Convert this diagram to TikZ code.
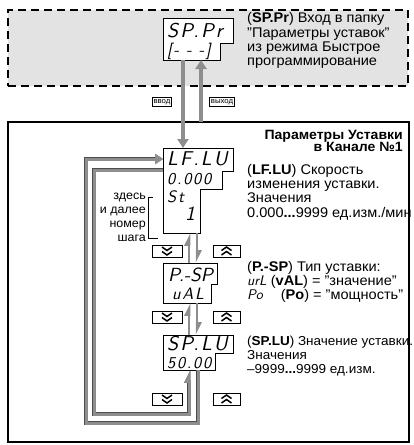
\documentclass[tikz,border=0pt]{standalone}
\usepackage{fontspec}
\setmainfont{Liberation Sans}[FakeStretch=1.04]
\newfontfamily\segfont{lmsans10-oblique.otf}[LetterSpace=10]
\newfontfamily\segtight{lmsans10-oblique.otf}
\usepackage{tikz}
\usepackage{xcolor}
\definecolor{panel_gray}{HTML}{E3E3E3}
\definecolor{flow_gray}{HTML}{8E8E8E}
\usetikzlibrary{positioning,calc,arrows.meta}
\tikzset{BOX/.style={rectangle,inner sep=0,outer sep=0,anchor=north west}}
\tikzset{DISPLAY/.style={draw,semithick,fill=white}}
\tikzset{SEG/.style={inner sep=0,anchor=west,font=\segfont\fontsize{20}{20}\selectfont}}
\tikzset{SEGSMALL/.style={SEG,font=\segfont\fontsize{16.5}{17}\selectfont}}
\tikzset{DESCR/.style={inner sep=0,anchor=north west,align=left,font=\fontsize{14}{14.3}\selectfont}}
\tikzset{TAG/.style={rectangle,draw,line width=0.9pt,fill=white,inner sep=1.3pt,font=\fontsize{7.5}{8}\selectfont}}
\tikzset{BUTTON/.style={rectangle,draw,semithick,fill=white,minimum height=12,inner sep=0}}
\tikzset{CHEVRON/.style={line width=1.5pt,miter limit=4}}
\tikzset{FLOW/.style={line width=4pt,color=flow_gray,-{Triangle[width=11pt,length=9pt]}}}
\tikzset{HARPOON/.style={line width=2.5pt,color=flow_gray,-{Triangle[left,width=9pt,length=10pt]}}}
\tikzset{LOOP/.style={line width=3pt,color=flow_gray,preaction={draw=black!70,line width=4.2pt}}}

\begin{document}
\begin{tikzpicture}[x=1pt,y=-1pt]
\useasboundingbox (0,0) rectangle (413,445);

% quick programming level
\node[BOX,draw,line width=1.5pt,dash pattern=on 8pt off 5pt,fill=panel_gray,minimum width=400,minimum height=76] (n_quick) at (8,10) {};
\node[BOX,minimum width=70,minimum height=42] (n_sppr) at (163,18) {};
\draw[DISPLAY] (n_sppr.north west) -- (n_sppr.north east) -- ++(0,25) -- ++(-13,0) |- (n_sppr.south west) -- cycle;
\node[SEG] (t_sppr_a) at ($(n_sppr.north west)+(4,13)$) {SP.Pr};
\node[SEGSMALL] (t_sppr_b) at ($(n_sppr.north west)+(4,33)$) {{[}- - -{]}};
\node[DESCR] (n_sppr_info) at (247,12.5) {(\textbf{SP.Pr}) Вход в папку\\"Параметры уставок"\\из режима Быстрое\\программирование};

% setpoint parameters
\node[BOX,draw,line width=1.2pt,minimum width=401,minimum height=320] (n_panel) at (8,122) {};
\node[inner sep=0,anchor=north east,align=right,font=\bfseries\fontsize{13.5}{12.5}\selectfont] (n_title) at (403,129.7) {Параметры Уставки\\в Канале №1};

\node[TAG] (n_tag_in) at (162,102) {ввод};
\node[TAG] (n_tag_out) at (222,102) {выход};

\node[BOX,minimum width=70,minimum height=85] (n_lflu) at (163,148) {};
\draw[DISPLAY] (n_lflu.north west) -- (n_lflu.north east) -- ++(0,23) -- ++(-11,0) -- ++(0,18) -- ++(-22,0) |- (n_lflu.south west) -- cycle;
\node[SEG] (t_lflu_a) at ($(n_lflu.north west)+(4,11)$) {LF.LU};
\node[SEGSMALL] (t_lflu_b) at ($(n_lflu.north west)+(4,31)$) {0.000};
\node[SEGSMALL] (t_lflu_c) at ($(n_lflu.north west)+(4,49)$) {St};
\node[SEG] (t_lflu_d) at ($(n_lflu.north west)+(22,66)$) {1};
\node[DESCR] (n_lflu_info) at (247,164) {(\textbf{LF.LU}) Скорость\\изменения уставки.\\Значения\\0.000\textbf{...}9999 ед.изм./мин};

\node[DESCR,anchor=north east,align=right,font=\fontsize{12}{14}\selectfont] (n_step_note) at (146,193.3) {здесь\\и далее\\номер\\шага};
\draw[semithick] ($(n_step_note.north east)+(7,4)$) -| ($(n_step_note.north east)+(2,45)$) -- ++(10,0);

\node[BOX,minimum width=54,minimum height=40] (n_psp) at (163,263) {};
\draw[DISPLAY] (n_psp.north west) -- (n_psp.north east) -- ++(0,21) -- ++(-6,0) |- (n_psp.south west) -- cycle;
\node[SEG,font=\segtight\fontsize{19}{19}\selectfont] (t_psp_a) at ($(n_psp.north west)+(5,12)$) {P.-SP};
\node[SEGSMALL] (t_psp_b) at ($(n_psp.north west)+(9,31)$) {uAL};
\node[DESCR] (n_psp_info) at (247,261) {(\textbf{P.-SP}) Тип уставки:\\{\segtight urL} (\textbf{vAL}) = "значение"\\{\segtight Po}\quad\ (\textbf{Po}) = "мощность"};

\node[BOX,minimum width=70,minimum height=35] (n_splu) at (163,335) {};
\draw[DISPLAY] (n_splu.north west) -- (n_splu.north east) -- ++(0,18) -- ++(-18,0) |- (n_splu.south west) -- cycle;
\node[SEG] (t_splu_a) at ($(n_splu.north west)+(4,9)$) {SP.LU};
\node[SEGSMALL] (t_splu_b) at ($(n_splu.north west)+(4,28)$) {50.00};
\node[DESCR,font=\fontsize{13}{14.3}\selectfont] (n_splu_info) at (247,335.6) {(\textbf{SP.LU}) Значение уставки.\\Значения\\--9999\textbf{...}9999 ед.изм.};

% buttons
\node[BUTTON,minimum width=30] (n_dn1) at (167,251) {};
\node[BUTTON,minimum width=27] (n_up1) at (226.5,251) {};
\node[BUTTON,minimum width=30] (n_dn2) at (167,317) {};
\node[BUTTON,minimum width=27] (n_up2) at (226.5,317) {};
\node[BUTTON,minimum width=30] (n_dn3) at (167,399) {};
\node[BUTTON,minimum width=27] (n_up3) at (226.5,399) {};
\foreach \b in {n_dn1,n_dn2,n_dn3}
  \draw[CHEVRON] ($(\b)+(-5,-4)$) -- ($(\b)+(0,-0.5)$) -- ($(\b)+(5,-4)$)
                 ($(\b)+(-5,0.5)$) -- ($(\b)+(0,4)$) -- ($(\b)+(5,0.5)$);
\foreach \b in {n_up1,n_up2,n_up3}
  \draw[CHEVRON] ($(\b)+(-5,4)$) -- ($(\b)+(0,0.5)$) -- ($(\b)+(5,4)$)
                 ($(\b)+(-5,-0.5)$) -- ($(\b)+(0,-4)$) -- ($(\b)+(5,-0.5)$);

% enter / exit
\coordinate (c_in) at ($(n_sppr.south west)+(20,0)$);
\draw[FLOW] (c_in) -- (c_in |- n_lflu.north);
\coordinate (c_out) at ($(n_sppr.south west)+(38,0)$);
\draw[FLOW] (c_out |- n_panel.north) -- (c_out);

% steps
\coordinate (c_up1) at ($(n_psp.north west)+(26,0)$);
\draw[HARPOON] (c_up1) -- (c_up1 |- n_lflu.south);
\coordinate (c_dn1) at ($(n_lflu.south west)+(34,0)$);
\draw[HARPOON] (c_dn1) -- (c_dn1 |- n_psp.north);
\coordinate (c_up2) at ($(n_splu.north west)+(26,0)$);
\draw[HARPOON] (c_up2) -- (c_up2 |- n_psp.south);
\coordinate (c_dn2) at ($(n_psp.south west)+(34,0)$);
\draw[HARPOON] (c_dn2) -- (c_dn2 |- n_splu.north);

% wrap around
\coordinate (c_loop_out) at ($(n_splu.south west)+(35,0)$);
\draw[LOOP,-{Triangle[width=10pt,length=8pt]}] (c_loop_out) -- ++(0,53) -| ($(n_lflu.north west)+(-77,11)$) -- ($(n_lflu.north west)+(0,11)$);
\coordinate (c_loop_in) at ($(n_splu.south west)+(26,0)$);
\draw[LOOP,-{Triangle[left,width=9pt,length=10pt]}] ($(n_lflu.north west)+(0,22)$) -- ++(-69,0) |- ($(c_loop_in)+(0,44)$) -- (c_loop_in);

\end{tikzpicture}
\end{document}
